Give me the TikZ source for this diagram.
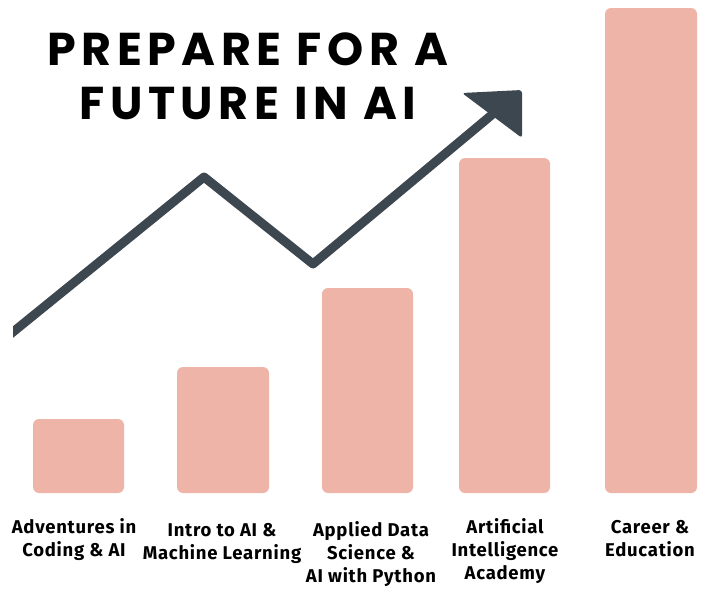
\documentclass[tikz,border=0pt]{standalone}
\usepackage{fontspec}
\newfontfamily\titlefont{Poppins}[LetterSpace=12]
\newfontfamily\labfont{Fira Sans}[LetterSpace=4]
\definecolor{barc}{HTML}{EEB4A7}
\definecolor{ink}{HTML}{3D4750}
\begin{document}
\begin{tikzpicture}[x=1pt,y=-1pt,
  barbox/.style={fill=barc, rounded corners=6pt, inner sep=0pt, draw=none},
  lab/.style={align=center, anchor=base, inner sep=0pt, font=\labfont\bfseries\fontsize{18.5}{22.8}\selectfont},
  ttl/.style={align=center, anchor=base, inner sep=0pt, font=\titlefont\bfseries\fontsize{46}{54}\selectfont}]
\useasboundingbox (0,0) rectangle (710,592);
% bars
\node[barbox, minimum width=91pt, minimum height=74pt]  (b1) at (78.5,456) {};
\node[barbox, minimum width=92pt, minimum height=126pt] (b2) at (223,430) {};
\node[barbox, minimum width=91pt, minimum height=205pt] (b3) at (367.5,390.5) {};
\node[barbox, minimum width=91pt, minimum height=335pt] (b4) at (504.5,325.5) {};
\node[barbox, minimum width=92pt, minimum height=485pt] (b5) at (651,250.5) {};
% labels (anchor = baseline of last line)
\node[lab] (l1) at (74,556) {Adventures in\\Coding \& AI};
\node[lab] (l2) at (222,559) {Intro to AI \&\\Machine Learning};
\node[lab] (l3) at (371,582) {Applied Data\\Science \&\\AI with Python};
\node[lab] (l4) at (505,579) {Artificial\\Intelligence\\Academy};
\node[lab] (l5) at (650,556) {Career \&\\Education};
% title
\node[ttl] (t) at (248,119) {PREPARE FOR A\\FUTURE IN AI};
% trend arrow
\coordinate (s) at (5,338.5);
\coordinate (p) at (204,177);
\coordinate (v) at (313,264);
\coordinate (e) at (500,108);
\begin{scope}
\clip (13,0) rectangle (710,592);
\draw[ink, line width=9pt, line join=round] (s) -- (p) -- (v) -- (e);
\end{scope}
\fill[ink, rounded corners=3pt] (462,93) -- (522,90) -- (522,138) -- cycle;
\end{tikzpicture}
\end{document}
